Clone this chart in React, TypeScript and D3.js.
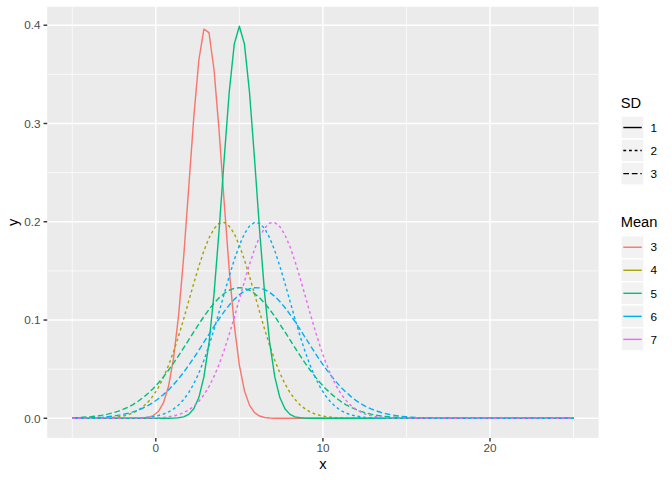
import React from "react";
import * as d3 from "d3";

// Shared x grid (seq(-5, 25, length = 100); tail beyond 18 is flat at 0)
const xGrid = [
  -5, -4.697, -4.394, -4.091, -3.788, -3.485, -3.182, -2.879, -2.576, -2.273,
  -1.97, -1.667, -1.364, -1.061, -0.758, -0.455, -0.152, 0.152, 0.455, 0.758,
  1.061, 1.364, 1.667, 1.97, 2.273, 2.576, 2.879, 3.182, 3.485, 3.788,
  4.091, 4.394, 4.697, 5.0, 5.303, 5.606, 5.909, 6.212, 6.515, 6.818,
  7.121, 7.424, 7.727, 8.03, 8.333, 8.636, 8.939, 9.242, 9.545, 9.848,
  10.152, 10.455, 10.758, 11.061, 11.364, 11.667, 11.97, 12.273, 12.576, 12.879,
  13.182, 13.485, 13.788, 14.091, 14.394, 14.697, 15.0, 15.303, 15.606, 15.909,
  16.212, 16.515, 16.818, 17.121, 17.424, 17.727, 18.03, 25,
];

const yMean3Sd1 = [
  0, 0, 0, 0, 0, 0, 0, 0, 0, 0,
  0, 0, 0, 0, 0.0003, 0.001, 0.0028, 0.0069, 0.0156, 0.0323,
  0.0609, 0.1047, 0.164, 0.2347, 0.3062, 0.3646, 0.396, 0.3924, 0.3547, 0.2925,
  0.2201, 0.151, 0.0945, 0.054, 0.0281, 0.0134, 0.0058, 0.0023, 0.0008, 0.0003,
  0, 0, 0, 0, 0, 0, 0, 0, 0, 0,
  0, 0, 0, 0, 0, 0, 0, 0, 0, 0,
  0, 0, 0, 0, 0, 0, 0, 0, 0, 0,
  0, 0, 0, 0, 0, 0, 0, 0,
];

const yMean4Sd2 = [
  0, 0, 0, 0.0001, 0.0001, 0.0002, 0.0003, 0.0005, 0.0009, 0.0015,
  0.0023, 0.0036, 0.0055, 0.0081, 0.0118, 0.0167, 0.0231, 0.0313, 0.0415, 0.0536,
  0.0677, 0.0837, 0.101, 0.1192, 0.1374, 0.1548, 0.1705, 0.1835, 0.193, 0.1984,
  0.1993, 0.1956, 0.1877, 0.176, 0.1613, 0.1445, 0.1265, 0.1082, 0.0905, 0.0739,
  0.059, 0.0461, 0.0351, 0.0262, 0.0191, 0.0136, 0.0095, 0.0064, 0.0043, 0.0028,
  0.0018, 0.0011, 0.0007, 0.0004, 0.0002, 0.0001, 0, 0, 0, 0,
  0, 0, 0, 0, 0, 0, 0, 0, 0, 0,
  0, 0, 0, 0, 0, 0, 0, 0,
];

const yMean5Sd1 = [
  0, 0, 0, 0, 0, 0, 0, 0, 0, 0,
  0, 0, 0, 0, 0, 0, 0, 0, 0, 0,
  0.0002, 0.0005, 0.0015, 0.004, 0.0097, 0.0211, 0.0421, 0.0764, 0.1266, 0.1914,
  0.2639, 0.332, 0.381, 0.3989, 0.381, 0.332, 0.2639, 0.1914, 0.1266, 0.0764,
  0.0421, 0.0211, 0.0097, 0.004, 0.0015, 0.0005, 0.0002, 0, 0, 0,
  0, 0, 0, 0, 0, 0, 0, 0, 0, 0,
  0, 0, 0, 0, 0, 0, 0, 0, 0, 0,
  0, 0, 0, 0, 0, 0, 0, 0,
];

const yMean5Sd3 = [
  0.0005, 0.0007, 0.001, 0.0013, 0.0018, 0.0024, 0.0032, 0.0042, 0.0055, 0.007,
  0.009, 0.0113, 0.014, 0.0173, 0.0211, 0.0255, 0.0304, 0.036, 0.0422, 0.0489,
  0.0561, 0.0638, 0.0717, 0.0798, 0.088, 0.0959, 0.1036, 0.1107, 0.1171, 0.1226,
  0.127, 0.1303, 0.1323, 0.133, 0.1323, 0.1303, 0.127, 0.1226, 0.1171, 0.1107,
  0.1036, 0.0959, 0.088, 0.0798, 0.0717, 0.0638, 0.0561, 0.0489, 0.0422, 0.036,
  0.0304, 0.0255, 0.0211, 0.0173, 0.014, 0.0113, 0.009, 0.007, 0.0055, 0.0042,
  0.0032, 0.0024, 0.0018, 0.0013, 0.001, 0.0007, 0.0005, 0.0004, 0.0003, 0.0002,
  0.0001, 0.0001, 0, 0, 0, 0, 0, 0,
];

const yMean6Sd2 = [
  0, 0, 0, 0, 0, 0, 0, 0, 0, 0,
  0, 0.0001, 0.0002, 0.0004, 0.0007, 0.0011, 0.0018, 0.0028, 0.0043, 0.0064,
  0.0095, 0.0136, 0.0191, 0.0262, 0.0351, 0.0461, 0.059, 0.0739, 0.0905, 0.1082,
  0.1265, 0.1445, 0.1613, 0.176, 0.1877, 0.1956, 0.1993, 0.1984, 0.193, 0.1835,
  0.1705, 0.1548, 0.1374, 0.1192, 0.101, 0.0837, 0.0677, 0.0536, 0.0415, 0.0313,
  0.0231, 0.0167, 0.0118, 0.0081, 0.0055, 0.0036, 0.0023, 0.0015, 0.0009, 0.0005,
  0.0003, 0.0002, 0.0001, 0.0001, 0, 0, 0, 0, 0, 0,
  0, 0, 0, 0, 0, 0, 0, 0,
];

const yMean6Sd3 = [
  0.0002, 0.0002, 0.0003, 0.0005, 0.0006, 0.0009, 0.0012, 0.0017, 0.0022, 0.003,
  0.0039, 0.0051, 0.0065, 0.0083, 0.0105, 0.0131, 0.0162, 0.0199, 0.0241, 0.0289,
  0.0343, 0.0403, 0.0468, 0.0539, 0.0615, 0.0693, 0.0774, 0.0855, 0.0936, 0.1013,
  0.1086, 0.1152, 0.121, 0.1258, 0.1294, 0.1318, 0.1329, 0.1327, 0.131, 0.1281,
  0.124, 0.1188, 0.1127, 0.1058, 0.0983, 0.0904, 0.0823, 0.0742, 0.0662, 0.0584,
  0.051, 0.0442, 0.0378, 0.032, 0.0269, 0.0223, 0.0183, 0.0149, 0.012, 0.0096,
  0.0076, 0.0059, 0.0046, 0.0035, 0.0027, 0.002, 0.0015, 0.0011, 0.0008, 0.0006,
  0.0004, 0.0003, 0.0002, 0.0001, 0.0001, 0, 0, 0,
];

const yMean7Sd2 = [
  0, 0, 0, 0, 0, 0, 0, 0, 0, 0,
  0, 0, 0, 0, 0.0001, 0.0002, 0.0003, 0.0006, 0.0009, 0.0015,
  0.0024, 0.0038, 0.0057, 0.0084, 0.0122, 0.0173, 0.0239, 0.0323, 0.0426, 0.0549,
  0.0693, 0.0854, 0.1028, 0.121, 0.1392, 0.1565, 0.1719, 0.1846, 0.1937, 0.1987,
  0.1991, 0.195, 0.1867, 0.1747, 0.1597, 0.1428, 0.1247, 0.1064, 0.0888, 0.0724,
  0.0576, 0.0449, 0.0341, 0.0254, 0.0185, 0.0131, 0.0091, 0.0062, 0.0041, 0.0027,
  0.0017, 0.001, 0.0006, 0.0004, 0.0002, 0.0001, 0, 0, 0, 0,
  0, 0, 0, 0, 0, 0, 0, 0,
];

const sdLevels = ["1", "2", "3"];
const meanLevels = ["3", "4", "5", "6", "7"];
const xTicks = [0, 10, 20];
const xMinor = [-5, 5, 15, 25];
const yTicks = [0, 0.1, 0.2, 0.3, 0.4];
const yMinor = [0.05, 0.15, 0.25, 0.35];

const seriesList = [
  { mean: "3", sd: "1", ys: yMean3Sd1 },
  { mean: "4", sd: "2", ys: yMean4Sd2 },
  { mean: "5", sd: "1", ys: yMean5Sd1 },
  { mean: "5", sd: "3", ys: yMean5Sd3 },
  { mean: "6", sd: "2", ys: yMean6Sd2 },
  { mean: "6", sd: "3", ys: yMean6Sd3 },
  { mean: "7", sd: "2", ys: yMean7Sd2 },
];

const W = 672;
const H = 480;
const panel = { left: 47.2, right: 598.6, top: 6.7, bottom: 437.9 };
const FONT = "'Liberation Sans', Arial, Helvetica, sans-serif";

export default function App() {
  const xMin = -5;
  const xMax = 25;
  const xPad = (xMax - xMin) * 0.05;
  const x = d3.scaleLinear().domain([xMin - xPad, xMax + xPad]).range([panel.left, panel.right]);
  const yMaxData = d3.max(seriesList, (s) => d3.max(s.ys)) as number;
  const yPad = yMaxData * 0.05;
  const y = d3.scaleLinear().domain([0 - yPad, yMaxData + yPad]).range([panel.bottom, panel.top]);

  const color = d3
    .scaleOrdinal<string, string>()
    .domain(meanLevels)
    .range(["#F8766D", "#A3A500", "#00BF7D", "#00B0F6", "#E76BF3"]);
  const dash = d3
    .scaleOrdinal<string, string>()
    .domain(sdLevels)
    .range(["none", "2.84 2.84", "5.69 2.84"]);

  const line = d3
    .line<number>()
    .x((_, i) => x(xGrid[i]))
    .y((d) => y(d));

  const lw = 1.42;
  const keySize = 23.04;
  const keyX = 621;
  const sdKeyTop = 116;
  const meanKeyTop = 235.7;

  return (
    <svg
      width={W}
      height={H}
      style={{ position: "absolute", left: 0, top: 0, display: "block" }}
      fontFamily={FONT}
    >
      <rect x={0} y={0} width={W} height={H} fill="#FFFFFF" />
      <rect
        x={panel.left}
        y={panel.top}
        width={panel.right - panel.left}
        height={panel.bottom - panel.top}
        fill="#EBEBEB"
      />
      {xMinor.map((v) => (
        <line key={"xm" + v} x1={x(v)} x2={x(v)} y1={panel.top} y2={panel.bottom} stroke="#FFFFFF" strokeWidth={0.71} />
      ))}
      {yMinor.map((v) => (
        <line key={"ym" + v} x1={panel.left} x2={panel.right} y1={y(v)} y2={y(v)} stroke="#FFFFFF" strokeWidth={0.71} />
      ))}
      {xTicks.map((v) => (
        <line key={"xM" + v} x1={x(v)} x2={x(v)} y1={panel.top} y2={panel.bottom} stroke="#FFFFFF" strokeWidth={1.42} />
      ))}
      {yTicks.map((v) => (
        <line key={"yM" + v} x1={panel.left} x2={panel.right} y1={y(v)} y2={y(v)} stroke="#FFFFFF" strokeWidth={1.42} />
      ))}

      {seriesList.map((s) => (
        <path
          key={s.mean + "-" + s.sd}
          d={line(s.ys) || ""}
          fill="none"
          stroke={color(s.mean)}
          strokeWidth={lw}
          strokeDasharray={dash(s.sd)}
          strokeLinecap="butt"
          strokeLinejoin="round"
        />
      ))}

      {/* axes ticks and labels */}
      {xTicks.map((v) => (
        <g key={"xt" + v}>
          <line x1={x(v)} x2={x(v)} y1={panel.bottom} y2={panel.bottom + 3.67} stroke="#333333" strokeWidth={1.42} />
          <text x={x(v)} y={452.3} textAnchor="middle" fontSize={11.73} fill="#4D4D4D">
            {String(v)}
          </text>
        </g>
      ))}
      {yTicks.map((v) => (
        <g key={"yt" + v}>
          <line x1={panel.left - 3.67} x2={panel.left} y1={y(v)} y2={y(v)} stroke="#333333" strokeWidth={1.42} />
          <text x={40.6} y={y(v) + 4.2} textAnchor="end" fontSize={11.73} fill="#4D4D4D">
            {v.toFixed(1)}
          </text>
        </g>
      ))}
      <text x={(panel.left + panel.right) / 2} y={469} textAnchor="middle" fontSize={14.67} fill="#000000">
        x
      </text>
      <text
        transform={`translate(17.5,${(panel.top + panel.bottom) / 2}) rotate(-90)`}
        textAnchor="middle"
        fontSize={14.67}
        fill="#000000"
      >
        y
      </text>

      {/* legend: SD */}
      <text x={620.7} y={108.3} fontSize={14.67} fill="#000000">
        SD
      </text>
      {sdLevels.map((l, i) => {
        const top = sdKeyTop + i * keySize;
        const cy = top + keySize / 2;
        return (
          <g key={"sd" + l}>
            <rect x={keyX} y={top} width={keySize} height={keySize} fill="#F2F2F2" stroke="#FFFFFF" strokeWidth={1.4} />
            <line
              x1={keyX + keySize * 0.1}
              x2={keyX + keySize * 0.9}
              y1={cy}
              y2={cy}
              stroke="#000000"
              strokeWidth={lw}
              strokeDasharray={dash(l)}
            />
            <text x={650.5} y={cy + 4.2} fontSize={11.73} fill="#000000">
              {l}
            </text>
          </g>
        );
      })}

      {/* legend: Mean */}
      <text x={620.7} y={227.3} fontSize={14.67} fill="#000000">
        Mean
      </text>
      {meanLevels.map((l, i) => {
        const top = meanKeyTop + i * keySize;
        const cy = top + keySize / 2;
        return (
          <g key={"mean" + l}>
            <rect x={keyX} y={top} width={keySize} height={keySize} fill="#F2F2F2" stroke="#FFFFFF" strokeWidth={1.4} />
            <line
              x1={keyX + keySize * 0.1}
              x2={keyX + keySize * 0.9}
              y1={cy}
              y2={cy}
              stroke={color(l)}
              strokeWidth={lw}
            />
            <text x={650.5} y={cy + 4.2} fontSize={11.73} fill="#000000">
              {l}
            </text>
          </g>
        );
      })}
    </svg>
  );
}
